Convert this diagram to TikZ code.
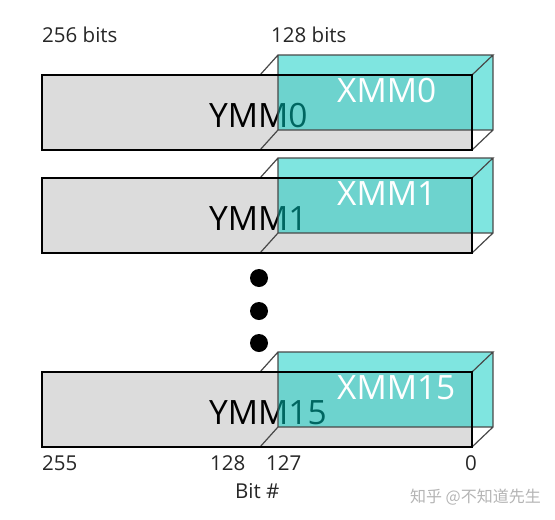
\documentclass[tikz,border=0pt]{standalone}
\usepackage{fontspec}
\setmainfont{Open Sans}
\newfontfamily\cjkfont{Noto Sans CJK SC}
\usetikzlibrary{positioning}
\definecolor{regGrey}{HTML}{DCDCDC}
\definecolor{xmmTeal}{HTML}{00CCC2}
\definecolor{edgeGrey}{HTML}{484848}
\definecolor{markGrey}{HTML}{B4B4B4}
\tikzset{
  lbl/.style={anchor=base west,inner sep=0pt,font=\fontsize{20.5}{24}\selectfont,text=black!85},
  regname/.style={anchor=base west,inner sep=0pt,font=\fontsize{33.5}{38}\selectfont},
  backedge/.style={draw=edgeGrey,line width=1.2pt},
  frontedge/.style={draw=black,line width=2.4pt},
}
\begin{document}
\begin{tikzpicture}[x=1pt,y=-1pt]
\useasboundingbox (0,0) rectangle (555,520);
% one register: grey 256-bit front face, translucent 128-bit box behind
\foreach \t/\n in {75/0,178/1,372/15} {
  \fill[regGrey] (42,\t) rectangle (472,\t+75);
  \node[regname] (ymm\n) at (209,\t+52) {YMM\n};
  \fill[xmmTeal,opacity=0.5] (278,\t-20) rectangle (493,\t+55);
  \node[regname,text=white] (xmm\n) at (337,\t+27) {XMM\n};
  \draw[backedge] (260,\t) -- (278,\t-20) -- (493,\t-20) -- (472,\t)
    (493,\t-20) -- (493,\t+55) -- (472,\t+75)
    (260,\t+75) -- (278,\t+55) -- (493,\t+55)
    (278,\t-20) -- (278,\t+55);
  \draw[frontedge] (42,\t) rectangle (472,\t+75);
}
\foreach \y in {278,311,343} \fill (259,\y) circle (9);
\node[lbl] (w256) at (42,42) {256 bits};
\node[lbl] (w128) at (271,42) {128 bits};
\node[lbl] (b255) at (42,470) {255};
\node[lbl] (b128) at (210,470) {128};
\node[lbl] (b127) at (266,470) {127};
\node[lbl] (b0) at (465,470) {0};
\node[lbl] (bitno) at (235,498) {Bit \#};
\node[anchor=base east,inner sep=0pt,font=\cjkfont\fontsize{16}{18}\selectfont,text=markGrey] (mark) at (541,502) {知乎 @不知道先生};
\end{tikzpicture}
\end{document}
